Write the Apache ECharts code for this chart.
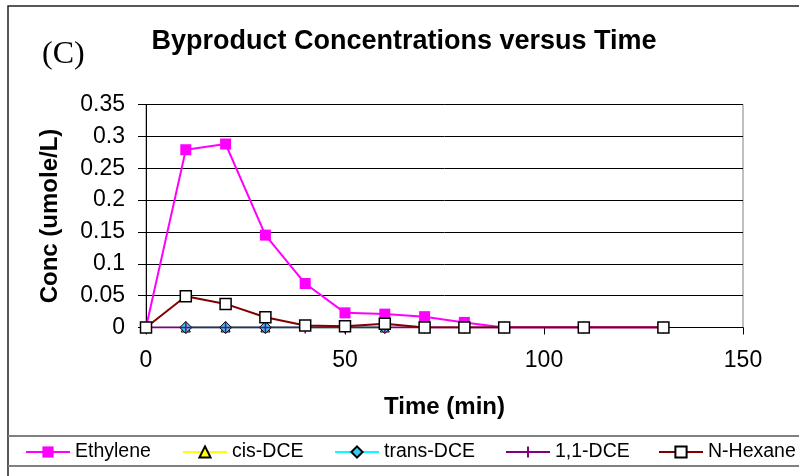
<!DOCTYPE html>
<html>
<head>
<meta charset="utf-8">
<title>Byproduct Concentrations versus Time</title>
<script src="https://cdn.jsdelivr.net/npm/echarts@6/dist/echarts.min.js"></script>
<style>
  html, body { margin: 0; padding: 0; background: #fff; }
  #chart { width: 799px; height: 476px; }
</style>
</head>
<body>
<div id="chart"></div>
<script>
// Sampling times (min)
const times = [0, 10, 20, 30, 40, 50, 60, 70, 80, 90, 110, 130];

// Concentrations (umole/L)
const ethylene = [0, 0.279, 0.288, 0.145, 0.069, 0.023, 0.021, 0.017, 0.008, 0, 0, 0];
const nHexane  = [0, 0.049, 0.037, 0.016, 0.003, 0.002, 0.006, 0, 0, 0, 0, 0];
const dce11    = [0, 0, 0, 0, 0, 0, 0, 0, 0, 0, 0, 0];

// cis- and trans-DCE were only sampled at these times
const dceTimes = [10, 20, 30, 60];
const cisDCE   = [0, 0, 0, 0];
const transDCE = [0, 0, 0, 0];

// Axis ticks
const xTicks = [0, 50, 100, 150];
const yTicks = ['0', '0.05', '0.1', '0.15', '0.2', '0.25', '0.3', '0.35'];

const seriesNames = ['Ethylene', 'cis-DCE', 'trans-DCE', '1,1-DCE', 'N-Hexane'];

// left edge of each legend entry along the legend band
const legendLefts = [25, 182, 334, 505, 658];

const pairs = (xs, ys) => xs.map((x, i) => [x, ys[i]]);

const FONT = '"Liberation Sans", Arial, sans-serif';

const chart = echarts.init(document.getElementById('chart'), null, { renderer: 'canvas' });

const legends = seriesNames.map((name, i) => ({
  data: [name],
  left: legendLefts[i], top: 442,
  itemWidth: 44, itemHeight: 14, itemGap: 0,
  padding: 0,
  selectedMode: false,
  textStyle: { fontFamily: FONT, fontSize: 19.5, color: '#000' }
}));

const option = {
  backgroundColor: '#ffffff',
  animation: false,
  grid: {
    left: 146, right: 56, top: 104.5, bottom: 148.5,
    show: true, borderColor: '#808080', borderWidth: 1,
    backgroundColor: 'transparent',
    containLabel: false, outerBoundsMode: 'none'
  },
  xAxis: {
    type: 'value',
    min: xTicks[0], max: xTicks[xTicks.length - 1],
    interval: xTicks[1] - xTicks[0],
    name: 'Time (min)',
    nameLocation: 'middle',
    nameGap: 68,
    nameTextStyle: { fontFamily: FONT, fontWeight: 'bold', fontSize: 24, color: '#000' },
    axisLine: { show: true, onZero: false, lineStyle: { color: '#000', width: 1 } },
    axisTick: { show: true, inside: false, length: 7, lineStyle: { color: '#000' } },
    axisLabel: { fontFamily: FONT, fontSize: 23, color: '#000', margin: 22 },
    splitLine: { show: false }
  },
  yAxis: {
    type: 'value',
    min: 0, max: 0.35, interval: 0.05,
    name: 'Conc (umole/L)',
    nameLocation: 'middle',
    nameGap: 84,
    nameRotate: 90,
    nameTextStyle: { fontFamily: FONT, fontWeight: 'bold', fontSize: 24, color: '#000' },
    axisLine: { show: true, onZero: false, lineStyle: { color: '#000', width: 1 } },
    axisTick: { show: true, inside: false, length: 8, lineStyle: { color: '#000' } },
    axisLabel: {
      fontFamily: FONT, fontSize: 23, color: '#000', margin: 21,
      formatter: (v) => yTicks[Math.round(v / 0.05)]
    },
    splitLine: { show: true, lineStyle: { color: '#000', width: 1 } }
  },
  legend: legends,
  graphic: [
    // outer chart frame
    { type: 'rect', silent: true, z: -1,
      shape: { x: 8, y: 6, width: 900, height: 600 },
      style: { fill: 'none', stroke: '#222', lineWidth: 1.5 } },
    // legend band
    { type: 'line', silent: true,
      shape: { x1: 8, y1: 436, x2: 799, y2: 436 },
      style: { stroke: '#808080', lineWidth: 2 } },
    { type: 'line', silent: true,
      shape: { x1: 8, y1: 466, x2: 799, y2: 466 },
      style: { stroke: '#808080', lineWidth: 2 } },
    // panel tag and title
    { type: 'text', silent: true,
      style: { text: '(C)', x: 42, y: 55, verticalAlign: 'middle',
               font: '32px "Liberation Serif", "Times New Roman", serif', fill: '#000' } },
    { type: 'text', silent: true,
      style: { text: 'Byproduct Concentrations versus Time', x: 404, y: 42,
               align: 'center', verticalAlign: 'middle',
               font: 'bold 27px "Liberation Sans", Arial, sans-serif', fill: '#000' } }
  ],
  series: [
    {
      name: 'Ethylene', type: 'line',
      data: pairs(times, ethylene),
      symbol: 'rect', symbolSize: 11,
      lineStyle: { color: '#FF00FF', width: 2 },
      itemStyle: { color: '#FF00FF' }
    },
    {
      name: 'cis-DCE', type: 'line',
      data: pairs(dceTimes, cisDCE),
      symbol: 'triangle', symbolSize: 9,
      lineStyle: { color: '#FFFF00', width: 2 },
      itemStyle: { color: '#FFFF00', borderColor: '#000', borderWidth: 1 }
    },
    {
      name: 'trans-DCE', type: 'line',
      data: pairs(dceTimes, transDCE),
      symbol: 'diamond', symbolSize: 12,
      lineStyle: { color: '#00FFFF', width: 2 },
      itemStyle: { color: '#33CCEE', borderColor: '#000', borderWidth: 1 }
    },
    {
      name: '1,1-DCE', type: 'line',
      data: pairs(times, dce11),
      symbol: 'path://M0,5L10,5M5,0L5,10', symbolSize: [12, 12],
      lineStyle: { color: '#800080', width: 2 },
      itemStyle: { color: 'none', borderColor: '#800080', borderWidth: 1.5 }
    },
    {
      name: 'N-Hexane', type: 'line',
      data: pairs(times, nHexane),
      symbol: 'rect', symbolSize: 11,
      lineStyle: { color: '#800000', width: 2 },
      itemStyle: { color: '#FFFFFF', borderColor: '#000', borderWidth: 1.5 }
    }
  ]
};

chart.setOption(option);
</script>
</body>
</html>
